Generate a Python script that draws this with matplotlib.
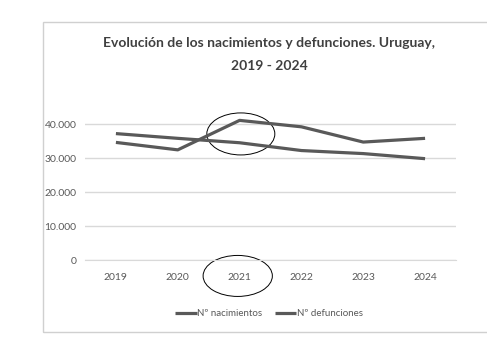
import matplotlib
matplotlib.use("Agg")
import matplotlib.pyplot as plt
from matplotlib.patches import Ellipse, Rectangle

years = ["2019", "2020", "2021", "2022", "2023", "2024"]
nacimientos = [37300, 35900, 34600, 32300, 31400, 29900]
defunciones = [34700, 32500, 41200, 39300, 34800, 35900]
yticks = [0, 10000, 20000, 30000, 40000]
ytick_labels = ["0", "10.000", "20.000", "30.000", "40.000"]

plt.rcParams["font.family"] = ["Lato", "DejaVu Sans"]

fig = plt.figure(figsize=(4.87, 3.39), dpi=100)
fig.patch.set_facecolor("white")

# chart frame (runs off the right edge)
fig.patches.append(Rectangle((43 / 487, 7 / 339), 1.2, 1 - 29 / 339,
                             transform=fig.transFigure, fill=False,
                             edgecolor="#d0d0d0", linewidth=1.0))

ax = fig.add_axes([85 / 487, 1 - 260 / 339, (456 - 85) / 487, (260 - 107.5) / 339])
x = list(range(len(years)))
line_color = "#595959"
ax.plot(x, nacimientos, color=line_color, lw=2.3, label="Nº nacimientos",
        solid_capstyle="butt")
ax.plot(x, defunciones, color=line_color, lw=2.3, label="Nº defunciones",
        solid_capstyle="butt")

ax.set_xlim(-0.5, len(years) - 0.5)
ax.set_ylim(0, 45000)
ax.set_yticks(yticks)
ax.set_yticklabels(ytick_labels)
ax.set_xticks(x)
ax.set_xticklabels(years)
ax.yaxis.grid(True, color="#d9d9d9", linewidth=1.0)
ax.set_axisbelow(True)
for side in ["top", "right", "left"]:
    ax.spines[side].set_visible(False)
ax.spines["bottom"].set_color("#d9d9d9")
ax.tick_params(length=0, labelsize=7.5, colors="#595959")
ax.tick_params(axis="x", pad=9)
ax.tick_params(axis="y", pad=6)

# hand-drawn circles around 2021
ax.add_patch(Ellipse((2.02, 37200), 1.1, 12400, fill=False, edgecolor="black",
                     linewidth=0.7, clip_on=False))
ax.add_patch(Ellipse((1.97, -4700), 1.12, 12100, fill=False, edgecolor="black",
                     linewidth=0.7, clip_on=False))

fig.text(0.553, 1 - 43 / 339, "Evolución de los nacimientos y defunciones. Uruguay,",
         ha="center", va="center", fontsize=10, fontweight="bold", color="#404040")
fig.text(0.553, 1 - 66 / 339, "2019 - 2024",
         ha="center", va="center", fontsize=10, fontweight="bold", color="#404040")

leg = ax.legend(loc="center", bbox_to_anchor=(269 / 487, 1 - 314 / 339),
                bbox_transform=fig.transFigure, ncol=2, frameon=False,
                fontsize=7.0, handlelength=2.2, handletextpad=0.05, columnspacing=1.3)
for t in leg.get_texts():
    t.set_color("#595959")

fig.savefig("out.png", dpi=100)
